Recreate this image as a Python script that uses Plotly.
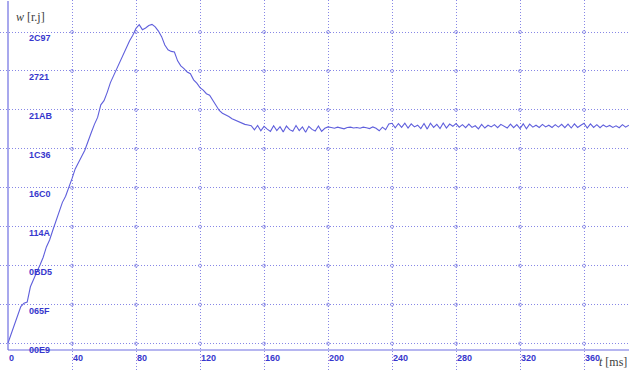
import numpy as np
import plotly.graph_objects as go

# ---- data ----
t_ms = list(range(0, 390, 2))
w_val = [
    250, 560, 900, 1250, 1560, 1680, 1720, 2270, 2560, 2800,
    3050, 3330, 3700, 3950, 4300, 4620, 4980, 5300, 5520, 5800,
    6150, 6500, 6700, 6950, 7170, 7450, 7800, 8100, 8350, 8800,
    8950, 9250, 9600, 9850, 10100, 10400, 10650, 10850, 11100, 11300,
    11550, 11680, 11500, 11560, 11650, 11690, 11600, 11450, 11250, 10950,
    10780, 10720, 10700, 10380, 10200, 10100, 9980, 9920, 9700, 9580,
    9420, 9330, 9200, 9150, 8950, 8800, 8600, 8500, 8450, 8380,
    8300, 8250, 8180, 8150, 8100, 8080, 8050, 7900, 8060, 7870,
    8030, 7930, 7850, 8050, 7880, 8020, 7830, 8040, 7910, 7850,
    8060, 7880, 8010, 7820, 8030, 7920, 7860, 8040, 7850, 7960,
    8010, 7990, 7960, 8000, 7980, 7940, 7990, 8000, 7970, 7990,
    7960, 8000, 7980, 7950, 8010, 7960, 7870, 8000, 7910, 8110,
    8140, 7980, 8130, 7990, 8140, 7970, 8120, 8010, 8070, 7950,
    8130, 7930, 8140, 7990, 8100, 7950, 8150, 7970, 8110, 8030,
    8130, 8000, 8090, 7980, 8110, 7990, 8050, 7940, 8100, 7970,
    8070, 8010, 8090, 7980, 8100, 8030, 7970, 8110, 7980, 8090,
    7950, 8120, 7940, 8110, 8000, 8070, 7990, 8100, 8010, 8070,
    7990, 8090, 8000, 8100, 7980, 8110, 7970, 8120, 7990, 8070,
    8140, 7970, 8120, 7990, 8090, 7980, 8080, 8010, 8060, 7990,
    8050, 7980, 8090, 8000, 8070,
]

x_ticks = [0, 40, 80, 120, 160, 200, 240, 280, 320, 360]
y_tick_labels = ["00E9", "065F", "0BD5", "114A", "16C0", "1C36", "21AB", "2721", "2C97"]
y_ticks = [int(s, 16) for s in y_tick_labels]

# ---- styling ----
LINE = "rgb(95,95,220)"
GRID = "rgb(135,135,230)"
LABEL = "rgb(55,55,205)"
AXIS = "rgb(110,110,225)"

X_MIN, X_MAX = -5, 388.1
Y_MIN, Y_MAX = -718, 12565

fig = go.Figure()

# grid intersection circles
gx, gy = np.meshgrid(x_ticks[1:], y_ticks)
fig.add_trace(go.Scatter(
    x=gx.ravel(), y=gy.ravel(), mode="markers",
    marker=dict(symbol="circle-open", size=3, color=GRID, line=dict(width=0.8, color=GRID)),
    hoverinfo="skip", showlegend=False))

fig.add_trace(go.Scatter(
    x=t_ms, y=w_val, mode="lines",
    line=dict(color=LINE, width=1.1),
    showlegend=False))

# axis lines
fig.add_shape(type="line", x0=0, x1=X_MAX, y0=0, y1=0, line=dict(color=AXIS, width=1.2), layer="above")
fig.add_shape(type="line", x0=0, x1=0, y0=0, y1=Y_MAX - 35, line=dict(color=AXIS, width=1.2), layer="above")

ann = []
for xt in x_ticks:
    ann.append(dict(x=xt, y=0, xref="x", yref="y", text="<b>" + str(xt) + "</b>", showarrow=False,
                    xanchor="left", yanchor="top", xshift=-1, yshift=-1,
                    font=dict(family="Liberation Sans", size=9, color=LABEL)))
for yv, lab in zip(y_ticks, y_tick_labels):
    ann.append(dict(x=12, y=yv, xref="x", yref="y", text="<b>" + lab + "</b>", showarrow=False,
                    xanchor="left", yanchor="top", yshift=1,
                    font=dict(family="Liberation Sans", size=9, color=LABEL)))

ann.append(dict(x=14 / 629, y=1 - 17 / 370, xref="paper", yref="paper",
                text="<i>w</i> [r.j]", showarrow=False, xanchor="left", yanchor="middle",
                font=dict(family="Liberation Serif", size=12, color="rgb(60,60,60)")))
ann.append(dict(x=1, y=1 - 362 / 370, xref="paper", yref="paper",
                text="<i>t</i> [ms]", showarrow=False, xanchor="right", yanchor="middle",
                font=dict(family="Liberation Serif", size=12, color="rgb(60,60,60)")))

fig.update_layout(
    width=629, height=370,
    margin=dict(l=0, r=0, t=0, b=0),
    paper_bgcolor="white", plot_bgcolor="white",
    annotations=ann,
    xaxis=dict(range=[X_MIN, X_MAX], tickvals=x_ticks[1:], showticklabels=False,
               showgrid=True, gridcolor=GRID, griddash="1px,2px", gridwidth=1,
               zeroline=False, showline=False, ticks=""),
    yaxis=dict(range=[Y_MIN, Y_MAX], tickvals=y_ticks, showticklabels=False,
               showgrid=True, gridcolor=GRID, griddash="1px,2px", gridwidth=1,
               zeroline=False, showline=False, ticks=""),
)

fig.write_html("out.html")
